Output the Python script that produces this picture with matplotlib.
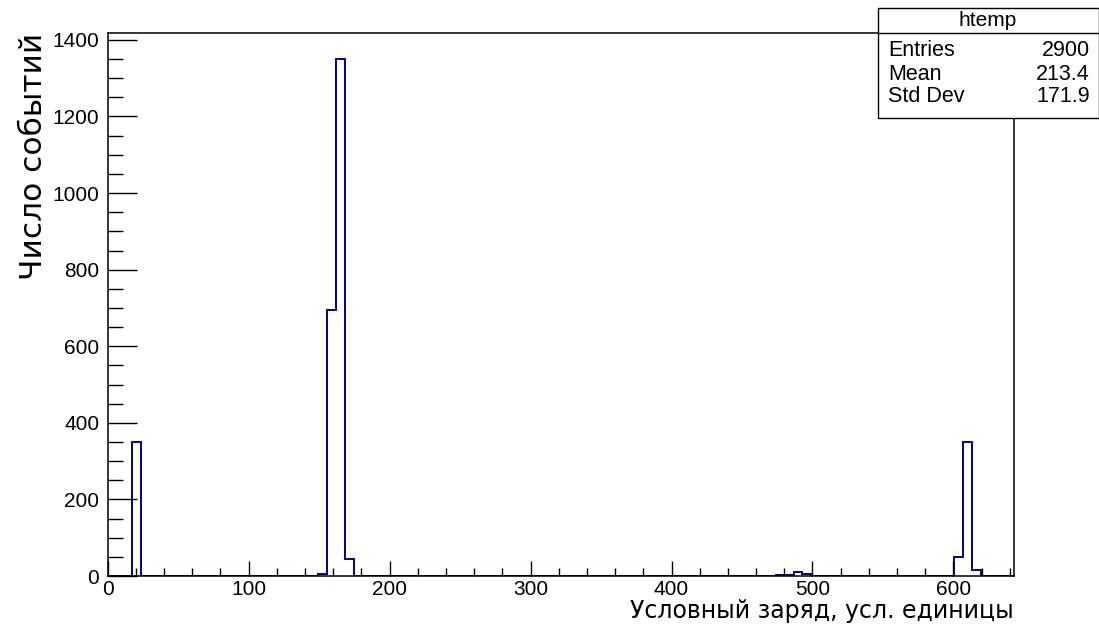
import matplotlib
matplotlib.use("Agg")
import matplotlib.pyplot as plt
from matplotlib.patches import Rectangle
from matplotlib.ticker import MultipleLocator

# histogram content (left edge of each non-empty bin, and its count)
bin_width = 6.3
bin_left = [17.4, 149.4, 155.7, 162.0, 168.3,
            474.0, 480.3, 486.6, 492.9,
            600.4, 606.7, 613.0]
counts = [350, 5, 695, 1350, 45,
          3, 3, 10, 5,
          50, 350, 15]

x_range = (0, 643)
y_max = 1350 * 1.05

stats_title = "htemp"
stats_names = ["Entries", "Mean", "Std Dev"]
stats_values = ["2900", "213.4", "171.9"]

x_title = "Условный заряд, усл. единицы"
y_title = "Число событий"

# build a contiguous step outline with empty gaps
edges = [x_range[0]]
values = []
for lo, c in zip(bin_left, counts):
    if abs(edges[-1] - lo) > 1e-6:
        values.append(0)
        edges.append(lo)
    values.append(c)
    edges.append(lo + bin_width)
values.append(0)
edges.append(x_range[1])

fig = plt.figure(figsize=(10.99, 6.31), dpi=100)
ax = fig.add_axes([0.098, 0.087, 0.8247, 0.8605])

ax.stairs(values, edges, color="#00008f", linewidth=1.4, baseline=0)

ax.set_xlim(*x_range)
ax.set_ylim(0, y_max)
ax.xaxis.set_major_locator(MultipleLocator(100))
ax.xaxis.set_minor_locator(MultipleLocator(20))
ax.yaxis.set_major_locator(MultipleLocator(200))
ax.yaxis.set_minor_locator(MultipleLocator(50))
ax.tick_params(axis="x", which="major", direction="in", length=11, width=1.0,
               labelsize=15, pad=3)
ax.tick_params(axis="x", which="minor", direction="in", length=6, width=1.0)
ax.tick_params(axis="y", which="major", direction="in", length=21, width=1.0,
               labelsize=15, pad=6)
ax.tick_params(axis="y", which="minor", direction="in", length=11, width=1.0)
for lab in ax.get_xticklabels() + ax.get_yticklabels():
    lab.set_family("Liberation Sans")
for sp in ax.spines.values():
    sp.set_linewidth(1.1)

ax.set_xlabel(x_title, fontsize=17, ha="right", x=1.0, labelpad=0)
ax.set_ylabel(y_title, fontsize=22.5, ha="right", y=1.0, labelpad=3)

# stats box (ROOT style)
bx0, by0, bw, bh = 878 / 1099, 1 - 118 / 631, 221 / 1099, 110 / 631
fig.patches.append(Rectangle((bx0, by0), bw, bh, transform=fig.transFigure,
                             facecolor="white", edgecolor="black",
                             linewidth=1.0, zorder=5))
sep_y = 1 - 33 / 631
fig.lines.append(plt.Line2D([bx0, bx0 + bw], [sep_y, sep_y],
                            transform=fig.transFigure, color="black",
                            linewidth=1.0, zorder=6))
fig.text(988 / 1099, 1 - 20 / 631, stats_title, ha="center", va="center",
         fontsize=15, family="Liberation Sans", zorder=7)
for i, (name, val) in enumerate(zip(stats_names, stats_values)):
    yy = 1 - (51 + i * 23) / 631
    fig.text(888 / 1099, yy, name, ha="left", va="center", fontsize=15.5,
             family="Liberation Sans", zorder=7)
    fig.text(1090 / 1099, yy, val, ha="right", va="center", fontsize=15.5,
             family="Liberation Sans", zorder=7)

fig.savefig("out.png", dpi=100)
